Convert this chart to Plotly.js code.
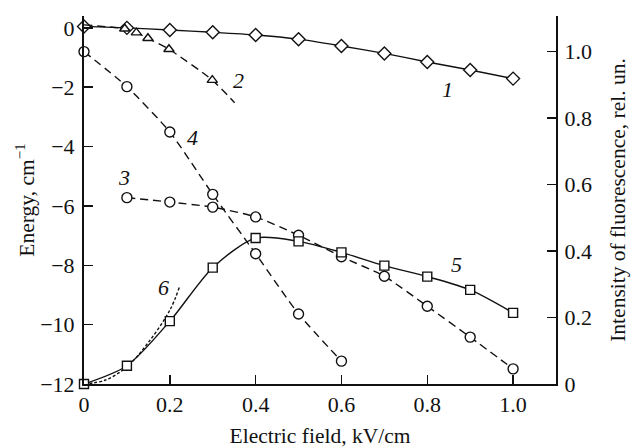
<!DOCTYPE html>
<html><head><meta charset="utf-8">
<script src="https://cdn.plot.ly/plotly-3.0.1.min.js"></script>
<style>html,body{margin:0;padding:0;background:#fff}</style>
</head><body>
<div id="chart" style="width:642px;height:448px"></div>
<script>
// Curve 1 (diamonds, solid), energy cm^-1
const x1 = [0, 0.1, 0.2, 0.3, 0.4, 0.5, 0.6, 0.7, 0.8, 0.9, 1.0];
const y1 = [0.05, 0.0, -0.07, -0.15, -0.24, -0.38, -0.61, -0.86, -1.15, -1.42, -1.71];
// Curve 2 (triangles, dashed) line and markers
const x2line = [0, 0.095, 0.122, 0.149, 0.198, 0.299, 0.351];
const y2line = [0.1, -0.03, -0.16, -0.35, -0.72, -1.76, -2.52];
const x2 = [0.095, 0.122, 0.149, 0.198, 0.299];
const y2 = [-0.03, -0.16, -0.35, -0.72, -1.76];
// Curve 3 (circles, dashed)
const x3 = [0.1, 0.2, 0.3, 0.4, 0.5, 0.6, 0.7, 0.8, 0.9, 1.0];
const y3 = [-5.72, -5.87, -6.04, -6.37, -6.99, -7.71, -8.37, -9.38, -10.42, -11.49];
// Curve 4 (circles, dashed)
const x4 = [0, 0.1, 0.2, 0.3, 0.4, 0.5, 0.6];
const y4 = [-0.8, -1.98, -3.51, -5.61, -7.61, -9.64, -11.23];
// Curve 5 (squares, solid), intensity rel. un.
const x5 = [0, 0.1, 0.2, 0.3, 0.4, 0.5, 0.6, 0.7, 0.8, 0.9, 1.0];
const y5 = [0, 0.055, 0.189, 0.35, 0.439, 0.429, 0.396, 0.356, 0.323, 0.283, 0.214];
// Curve 6 (dotted), intensity
const x6 = [0, 0.05, 0.1, 0.15, 0.2, 0.222];
const y6 = [0, 0.012, 0.052, 0.125, 0.222, 0.29];
// Tick labels
const xTickVals = [0, 0.2, 0.4, 0.6, 0.8, 1.0];
const xTickText = ["0", "0.2", "0.4", "0.6", "0.8", "1.0"];
const yTickVals = [0, -2, -4, -6, -8, -10, -12];
const yTickText = ["0", "\u22122", "\u22124", "\u22126", "\u22128", "\u221210", "\u221212"];
const y2TickVals = [0, 0.2, 0.4, 0.6, 0.8, 1.0];
const y2TickText = ["0", "0.2", "0.4", "0.6", "0.8", "1.0"];
// Curve labels
const labText = ["1", "2", "3", "4", "5", "6"];
const labX = [0.847, 0.36, 0.093, 0.253, 0.867, 0.186];
const labY = [-2.09, -1.79, -5.03, -3.68, -7.97, -8.75];

const F = "Liberation Serif";
const blk = "#111";
const mk = (sym, size) => ({symbol: sym, size: size, color: "#ffffff", line: {color: blk, width: 1.4}});

const traces = [
  {x: x1, y: y1, mode: "lines+markers", line: {color: blk, width: 1.4, shape: "spline", smoothing: 0.6}, marker: mk("diamond", 10), cliponaxis: false},
  {x: x2line, y: y2line, mode: "lines", line: {color: blk, width: 1.4, dash: "8px,5px", shape: "spline", smoothing: 0.6}, cliponaxis: false},
  {x: x2, y: y2, mode: "markers", marker: mk("triangle-up", 9), cliponaxis: false},
  {x: x3, y: y3, mode: "lines+markers", line: {color: blk, width: 1.4, dash: "8px,5px", shape: "spline", smoothing: 0.6}, marker: mk("circle", 10), cliponaxis: false},
  {x: x4, y: y4, mode: "lines+markers", line: {color: blk, width: 1.4, dash: "8px,5px", shape: "spline", smoothing: 0.6}, marker: mk("circle", 10), cliponaxis: false},
  {x: x6, y: y6, yaxis: "y2", mode: "lines", line: {color: blk, width: 1.4, dash: "3px,2px", shape: "spline"}, cliponaxis: false},
  {x: x5, y: y5, yaxis: "y2", mode: "lines+markers", line: {color: blk, width: 1.4, shape: "spline", smoothing: 0.8}, marker: mk("square", 9), cliponaxis: false}
];

const annotations = labText.map((t, i) => ({
  x: labX[i], y: labY[i], xref: "x", yref: "y", text: "<i>" + t + "</i>",
  showarrow: false, font: {family: F, size: 22, color: blk}
}));

const layout = {
  width: 642, height: 448,
  margin: {l: 84, r: 86, t: 16, b: 64, pad: 0},
  paper_bgcolor: "#fff", plot_bgcolor: "#fff",
  showlegend: false,
  font: {family: F, size: 21, color: blk},
  xaxis: {
    range: [0, 1.1], showgrid: false, zeroline: false,
    showline: true, linewidth: 2, linecolor: blk,
    ticks: "inside", ticklen: 9, tickwidth: 1.5, tickcolor: blk,
    tickvals: xTickVals, ticktext: xTickText,
    tickfont: {family: F, size: 22, color: blk},
    title: {text: "Electric field, kV/cm", font: {family: F, size: 21.5, color: blk}, standoff: 25},
    automargin: false
  },
  yaxis: {
    range: [-12, 0.4], showgrid: false, zeroline: false,
    showline: true, linewidth: 2, linecolor: blk,
    ticks: "inside", ticklen: 9, tickwidth: 1.5, tickcolor: blk,
    tickvals: yTickVals, ticktext: yTickText, ticklabelstandoff: 3,
    tickfont: {family: F, size: 22, color: blk},
    title: {text: "Energy, cm<sup>\u22121</sup>", font: {family: F, size: 21.5, color: blk}, standoff: 0},
    automargin: false
  },
  yaxis2: {
    overlaying: "y", side: "right",
    range: [0, 1.107], showgrid: false, zeroline: false,
    showline: true, linewidth: 2, linecolor: blk,
    ticks: "inside", ticklen: 9, tickwidth: 1.5, tickcolor: blk,
    tickvals: y2TickVals, ticktext: y2TickText, ticklabelstandoff: 2,
    tickfont: {family: F, size: 22, color: blk},
    title: {text: "Intensity of fluorescence, rel. un.", font: {family: F, size: 21.5, color: blk}, standoff: 19},
    automargin: false
  },
  annotations: annotations
};

Plotly.newPlot("chart", traces, layout, {staticPlot: true, displayModeBar: false});
</script>
</body></html>
